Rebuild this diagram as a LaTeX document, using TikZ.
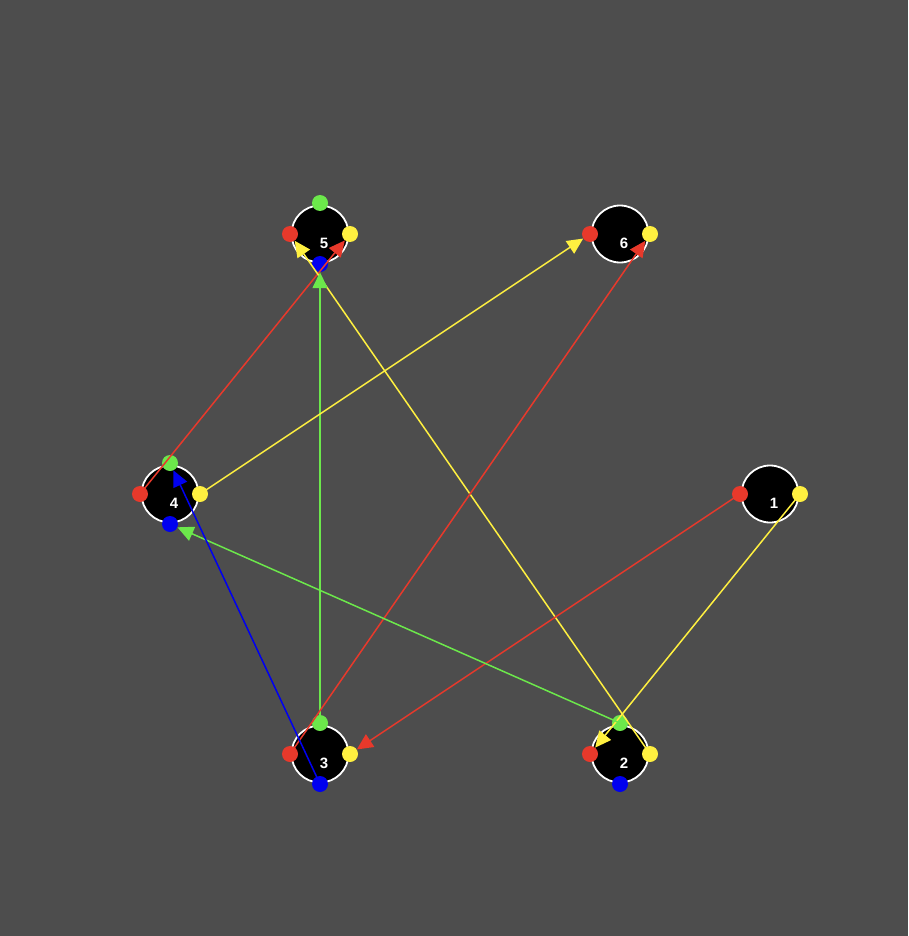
\documentclass[tikz,border=0pt]{standalone}
\usepackage{fontspec}
\setmainfont{Liberation Sans}
\usetikzlibrary{arrows.meta}
\definecolor{bg}{RGB}{77,77,77}
\definecolor{pred}{RGB}{232,57,43}
\definecolor{pyel}{RGB}{255,240,64}
\definecolor{pgrn}{RGB}{108,232,75}
\definecolor{pblu}{RGB}{0,0,240}
\tikzset{
  vert/.style={circle,draw=white,line width=1.8pt,fill=black,minimum size=57pt,inner sep=0pt},
  lbl/.style={text=white,font=\fontsize{15}{16}\selectfont\bfseries,inner sep=0pt},
  port/.style={circle,inner sep=0pt,minimum size=16pt,draw=none},
  edge/.style={line width=1.5pt,-{Triangle[length=16pt,width=15pt]}},
}
\begin{document}
\begin{tikzpicture}[x=1pt,y=-1pt]
\fill[bg] (0,0) rectangle (908,936);
\useasboundingbox (0,0) rectangle (908,936);
% vertices
\node[vert] (v1) at (770,494) {};
\node[vert] (v2) at (620,754) {};
\node[vert] (v3) at (320,754) {};
\node[vert] (v4) at (170,494) {};
\node[vert] (v5) at (320,234) {};
\node[vert] (v6) at (620,234) {};
\node[lbl] (l1) at (774,503) {1};
\node[lbl] (l2) at (624,763) {2};
\node[lbl] (l3) at (324,763) {3};
\node[lbl] (l4) at (174,503) {4};
\node[lbl] (l5) at (324,243) {5};
\node[lbl] (l6) at (624,243) {6};
% ports
\node[port,fill=pred] (p1r) at (740,494) {};
\node[port,fill=pyel] (p1y) at (800,494) {};
\node[port,fill=pred] (p6r) at (590,234) {};
\node[port,fill=pyel] (p6y) at (650,234) {};
\foreach \n/\x/\y in {2/620/754,3/320/754,4/170/494,5/320/234}{
  \node[port,fill=pred] (p\n r) at (\x-30,\y) {};
  \node[port,fill=pyel] (p\n y) at (\x+30,\y) {};
  \node[port,fill=pgrn] (p\n g) at (\x,\y-31) {};
  \node[port,fill=pblu] (p\n b) at (\x,\y+30) {};
}
% edges
\draw[edge,pred] (p4r.center) -- (p5y);
\draw[edge,pyel] (p2y.center) -- (p5r);
\draw[edge,pgrn] (p3g.center) -- (p5b);
\draw[edge,pyel] (p4y.center) -- (p6r);
\draw[edge,pred] (p3r.center) -- (p6y);
\draw[edge,pred] (p1r.center) -- (p3y);
\draw[edge,pyel] (p1y.center) -- (p2r);
\draw[edge,pgrn] (p2g.center) -- (p4b);
\draw[edge,pblu] (p3b.center) -- (p4g);
\end{tikzpicture}
\end{document}
